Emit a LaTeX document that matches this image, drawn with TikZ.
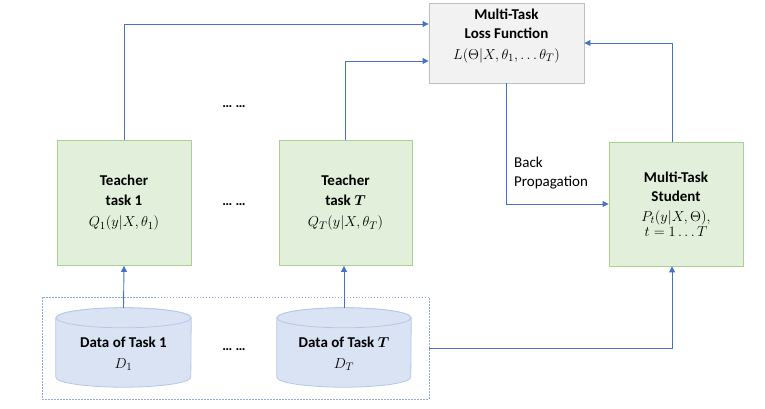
\documentclass[tikz,border=0pt]{standalone}
\usepackage{amsmath,amssymb}
\usepackage{fontspec}
\setmainfont{Carlito}
\usetikzlibrary{arrows.meta}
\definecolor{arr}{HTML}{4472C4}
\definecolor{tfill}{HTML}{E2EFDA}
\definecolor{tdraw}{HTML}{A9D18E}
\definecolor{lfill}{HTML}{F2F2F2}
\definecolor{ldraw}{HTML}{BFBFBF}
\definecolor{cfill}{HTML}{DAE3F3}
\definecolor{cdraw}{HTML}{B4C7E7}
\definecolor{dbox}{HTML}{8FAADC}
\begin{document}
\begin{tikzpicture}[x=1pt,y=1pt,
  every node/.style={font=\fontsize{15}{19.5}\selectfont, align=center, inner sep=0pt},
  greenbox/.style={draw=tdraw, fill=tfill, line width=0.9pt, minimum width=134pt, minimum height=125pt},
  lossbox/.style={draw=ldraw, fill=lfill, line width=0.9pt, minimum width=155pt, minimum height=80pt},
  cylbox/.style={minimum width=135pt, minimum height=79pt},
  cylpath/.style={draw=cdraw, fill=cfill, line width=0.8pt},
  conn/.style={draw=arr, line width=0.9pt},
  arrowc/.style={conn, -{Triangle[length=6pt,width=6pt]}},
  dotsnode/.style={font=\fontsize{14}{15}\selectfont\bfseries}
]
\useasboundingbox (0,0) rectangle (765,409);

% dashed data box
\node[draw=dbox, dash pattern=on 1.5pt off 1.5pt, line width=0.7pt, minimum width=387pt, minimum height=102pt] (dbox) at (235.5,61) {};

% cylinders
\node[cylbox] (d1) at (123.5,61.5) {};
\node[cylbox, minimum width=134pt] (dT) at (344,61.5) {};
\foreach \n/\rx in {d1/67.5, dT/67} {
  \path[cylpath] ([yshift=-10pt]\n.north west) -- ([yshift=10pt]\n.south west)
     arc[start angle=180, end angle=360, x radius=\rx pt, y radius=10pt]
     -- ([yshift=-10pt]\n.north east)
     arc[start angle=0, end angle=180, x radius=\rx pt, y radius=10pt] -- cycle;
  \draw[cylpath] ([yshift=-10pt]\n.north) ellipse[x radius=\rx pt, y radius=10pt];
}
\node (d1t) at (123.5,55) {\textbf{Data of Task 1}\\[1pt]$D_1$};
\node (dTt) at (344,55) {\textbf{Data of Task $\boldsymbol{T}$}\\[1pt]$D_T$};

% teachers
\node[greenbox] (t1) at (124,206) {\textbf{Teacher}\\\textbf{task 1}\\[2pt]$Q_1(y|X,\theta_1)$};
\node[greenbox, minimum width=133pt] (tT) at (345.5,206) {\textbf{Teacher}\\\textbf{task $\boldsymbol{T}$}\\[2pt]$Q_T(y|X,\theta_T)$};

% student
\node[greenbox, minimum height=124pt] (st) at (676,205) {\textbf{Multi-Task}\\\textbf{Student}\\[0pt]$P_t(y|X,\Theta),$\\[-4pt]$t=1\ldots T$};

% loss
\node[lossbox] (loss) at (506.5,366) {};
\node (losst) at (506.5,373) {\textbf{Multi-Task}\\\textbf{Loss Function}\\[1pt]$L(\Theta|X,\theta_1,\ldots\theta_T)$};

% dots
\node[dotsnode] (dots1) at (234,302) {\ldots\ \ldots};
\node[dotsnode] (dots2) at (234,204) {\ldots\ \ldots};
\node[dotsnode] (dots3) at (234,59) {\ldots\ \ldots};

% connectors
\draw[arrowc] (t1.north) |- ([yshift=19pt]loss.west);
\draw[arrowc] (tT.north) |- ([yshift=-18pt]loss.west);
\draw[arrowc] (d1.north) -- (t1.south);
\draw[arrowc] (dT.north) -- (tT.south -| dT.north);
\draw[arrowc] (loss.south) |- (st.west);
\draw[arrowc] ([xshift=-4pt]st.north) |- (loss.east);
\draw[arrowc] (dbox.east) -| ([xshift=-4pt]st.south);

\node[anchor=west, align=left, font=\fontsize{15}{19}\selectfont] (bp) at (514,236) {Back\\Propagation};
\end{tikzpicture}
\end{document}
